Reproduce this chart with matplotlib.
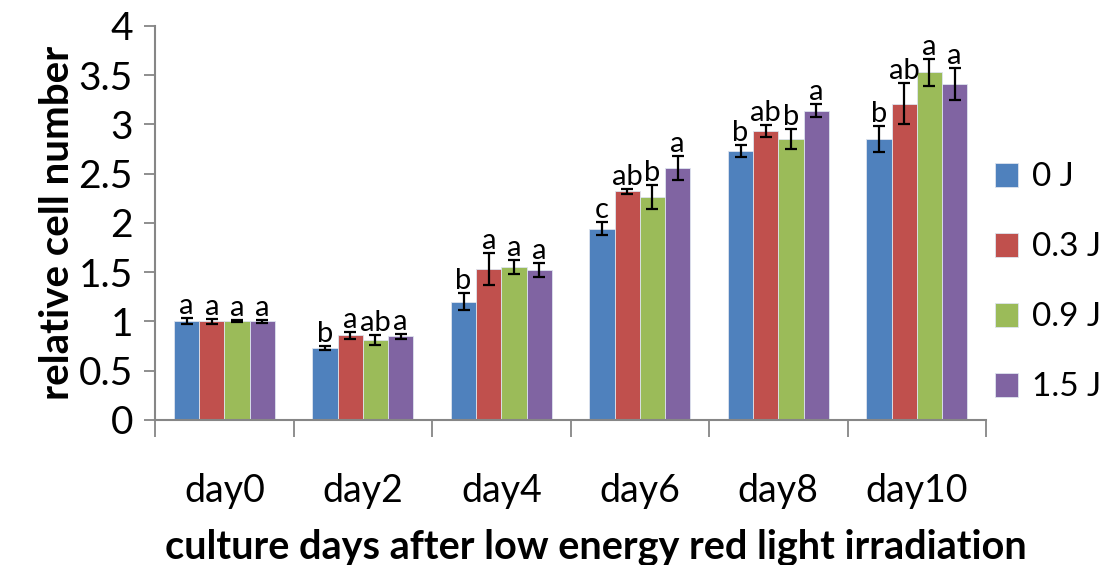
import matplotlib.pyplot as plt
import numpy as np

plt.rcParams['font.family'] = ['Lato', 'DejaVu Sans']

# Data
days = ['day0', 'day2', 'day4', 'day6', 'day8', 'day10']
series = ['0 J', '0.3 J', '0.9 J', '1.5 J']
colors = ['#4F81BD', '#C0504D', '#9BBB59', '#8064A2']

vals_0 = [1.00, 0.73, 1.20, 1.94, 2.73, 2.85]
vals_03 = [1.00, 0.86, 1.53, 2.32, 2.93, 3.21]
vals_09 = [1.00, 0.81, 1.55, 2.26, 2.85, 3.53]
vals_15 = [1.00, 0.85, 1.52, 2.56, 3.14, 3.41]

err_0 = [0.03, 0.02, 0.088, 0.064, 0.057, 0.13]
err_03 = [0.025, 0.035, 0.16, 0.027, 0.06, 0.21]
err_09 = [0.01, 0.05, 0.074, 0.12, 0.10, 0.135]
err_15 = [0.015, 0.025, 0.068, 0.12, 0.066, 0.165]

lab_0 = ['a', 'b', 'b', 'c', 'b', 'b']
lab_03 = ['a', 'a', 'a', 'ab', 'ab', 'ab']
lab_09 = ['a', 'ab', 'a', 'b', 'b', 'a']
lab_15 = ['a', 'a', 'a', 'a', 'a', 'a']

values = [vals_0, vals_03, vals_09, vals_15]
errors = [err_0, err_03, err_09, err_15]
letters = [lab_0, lab_03, lab_09, lab_15]

fig = plt.figure(figsize=(11.08, 5.65), dpi=100)
ax = fig.add_axes([0.140, 0.257, 0.750, 0.697])

x = np.arange(len(days))
w = 0.182
for i in range(4):
    pos = x + (i - 1.5) * w
    ax.bar(pos, values[i], w, color=colors[i], edgecolor='#dde4ee', linewidth=0.6,
           label=series[i], zorder=2)
    ax.errorbar(pos, values[i], yerr=errors[i], fmt='none', ecolor='black',
                elinewidth=1.6, capsize=4, capthick=1.6, zorder=3)
    for j in range(len(days)):
        ax.text(pos[j], values[i][j] + errors[i][j] - 0.01, letters[i][j],
                ha='center', va='bottom', fontsize=21)

ax.set_xlim(-0.5, len(days) - 0.5)
ax.set_ylim(0, 4)
ax.set_yticks(np.arange(0, 4.01, 0.5))
ax.set_yticklabels(['0', '0.5', '1', '1.5', '2', '2.5', '3', '3.5', '4'])
ax.set_xticks(x)
ax.set_xticklabels(days)
ax.set_xticks(np.arange(-0.5, len(days), 1.0), minor=True)

for s in ['top', 'right']:
    ax.spines[s].set_visible(False)
for s in ['left', 'bottom']:
    ax.spines[s].set_color('#868686')
    ax.spines[s].set_linewidth(1.5)

ax.tick_params(axis='y', direction='out', length=8, width=1.3, color='#868686',
               labelsize=28, pad=8)
ax.tick_params(axis='x', which='major', length=0, labelsize=27, pad=38)
ax.tick_params(axis='x', which='minor', direction='out', length=12, width=1.3,
               color='#868686')

ax.set_ylabel('relative cell number', fontsize=29, fontweight='bold', labelpad=2)
ax.set_xlabel('culture days after low energy red light irradiation', fontsize=28.5,
              fontweight='bold')
ax.xaxis.set_label_coords(0.53, -0.275)

fig.legend(loc='center left', bbox_to_anchor=(0.898, 0.50), frameon=False,
           fontsize=24, handlelength=0.7, handleheight=0.7, handletextpad=0.4,
           labelspacing=1.2, borderpad=0, borderaxespad=0)

fig.savefig('out.png', dpi=100)
